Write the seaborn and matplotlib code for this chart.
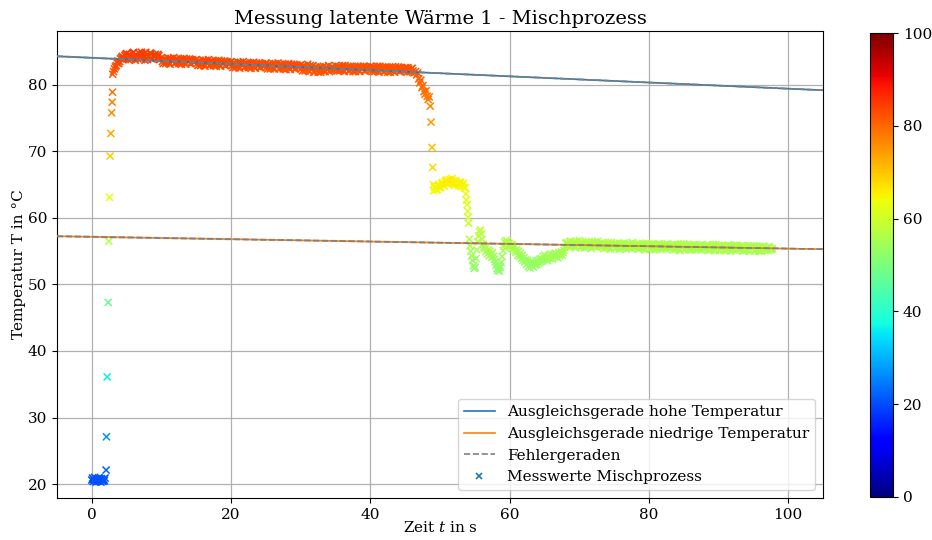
import numpy as np
import pandas as pd
import matplotlib
matplotlib.use("Agg")
import matplotlib.pyplot as plt
from matplotlib.lines import Line2D
import seaborn as sns

plt.rcParams['font.family'] = ['DejaVu Serif']
plt.rcParams['mathtext.fontset'] = 'dejavuserif'

# ---------------- data ----------------
# start: cold water (t0 = 0 s, interval 0.1 s)
start_t0, start_dt = 0.0, 0.1
start_T = [20.6, 20.9, 20.4, 20.7, 21.0, 20.5, 20.3, 20.8, 20.6, 20.4,
           20.9, 20.5, 20.7, 20.3, 20.8, 20.6, 20.4, 20.7, 20.5, 20.9]

# fast rise (explicit times)
rise_t = [2.05, 2.10, 2.20, 2.35, 2.44, 2.54, 2.63, 2.73, 2.85, 2.92, 2.97]
rise_T = [22.1, 27.1, 36.1, 47.3, 56.5, 63.1, 69.3, 72.7, 75.8, 77.4, 78.9]

# hot plateau, readings A (t0 = 3.0 s, interval 0.25 s)
hot_t0, hot_dt = 3.0, 0.25
hot_T = [81.6, 82.4, 82.9, 83.6, 83.5, 84.1, 83.8, 84.4,
         84.7, 83.8, 84.5, 84.0, 84.9, 83.7, 84.3, 84.8, 83.9, 84.6,
         84.1, 84.9, 83.8, 84.4, 84.7, 83.9, 84.5, 84.0, 84.6, 83.8,
         84.1, 83.2, 83.8, 83.4, 84.0, 83.1, 83.7, 84.1, 83.3, 83.8,
         83.2, 83.9, 83.5, 84.0, 83.1, 83.6, 83.9, 83.2, 83.7, 83.4,
         83.8, 82.9, 83.5, 83.1, 83.7, 82.8, 83.4, 83.8, 83.0, 83.5,
         82.9, 83.6, 83.2, 83.7, 82.8, 83.3, 83.6, 82.9, 83.4, 83.1,
         83.5, 82.6, 83.2, 82.8, 83.4, 82.5, 83.1, 83.5, 82.7, 83.2,
         82.6, 83.3, 82.9, 83.4, 82.5, 83.0, 83.3, 82.6, 83.1, 82.8,
         83.3, 82.4, 83.0, 82.6, 83.2, 82.4, 82.9, 83.3, 82.5, 83.0,
         82.4, 83.1, 82.7, 83.2, 82.3, 82.8, 83.1, 82.4, 82.9, 82.6,
         83.0, 82.1, 82.8, 82.3, 83.1, 82.0, 82.6, 82.9, 82.0, 82.5,
         81.9, 82.7, 82.2, 82.8, 82.0, 82.6, 82.9, 82.2, 82.7, 82.4,
         82.9, 82.1, 82.7, 82.2, 82.9, 82.0, 82.5, 82.8, 82.1, 82.6,
         82.0, 82.7, 82.3, 82.8, 82.0, 82.5, 82.8, 82.1, 82.6, 82.3,
         82.8, 82.0, 82.6, 82.1, 82.8, 81.9, 82.4, 82.7, 82.0, 82.5,
         81.9, 82.6, 82.2, 82.7, 81.9, 82.4, 82.7, 82.0, 82.5, 82.2,
         82.6, 81.9, 82.4, 82.0, 82.5, 81.8]
# hot plateau, readings B (t0 = 3.125 s, interval 0.25 s)
hot2_t0, hot2_dt = 3.125, 0.25
hot2_T = [82.0, 82.7, 83.3, 83.2, 83.9, 84.3, 84.0, 84.6,
          84.0, 84.6, 83.8, 84.8, 84.2, 84.5, 83.9, 84.3, 84.9, 84.1,
          83.7, 84.5, 84.2, 84.8, 83.9, 84.3, 84.6, 84.1, 84.4, 83.9,
          83.5, 83.9, 83.2, 83.7, 83.3, 84.0, 83.6, 83.2, 83.9, 83.4,
          83.7, 83.1, 83.8, 83.3, 83.9, 83.5, 83.2, 83.8, 83.4, 83.7,
          83.2, 83.6, 82.9, 83.4, 83.0, 83.7, 83.3, 82.9, 83.6, 83.1,
          83.4, 82.8, 83.5, 83.0, 83.6, 83.2, 82.9, 83.5, 83.1, 83.4,
          82.9, 83.3, 82.6, 83.1, 82.7, 83.4, 83.0, 82.6, 83.3, 82.8,
          83.1, 82.5, 83.2, 82.7, 83.3, 82.9, 82.6, 83.2, 82.8, 83.1,
          82.7, 83.1, 82.4, 82.9, 82.5, 83.2, 82.8, 82.4, 83.1, 82.6,
          82.9, 82.3, 83.0, 82.5, 83.1, 82.7, 82.4, 83.0, 82.6, 82.9,
          82.5, 82.9, 82.1, 82.6, 82.2, 82.9, 82.4, 81.9, 82.7, 82.2,
          82.5, 81.9, 82.6, 82.1, 82.7, 82.3, 82.0, 82.6, 82.2, 82.5,
          82.4, 82.8, 82.1, 82.6, 82.2, 82.9, 82.5, 82.1, 82.8, 82.3,
          82.6, 82.0, 82.7, 82.2, 82.8, 82.4, 82.1, 82.7, 82.3, 82.6,
          82.3, 82.7, 82.0, 82.5, 82.1, 82.8, 82.4, 82.0, 82.7, 82.2,
          82.5, 81.9, 82.6, 82.1, 82.7, 82.3, 82.0, 82.6, 82.2, 82.5,
          82.2, 82.6, 82.0, 82.4, 82.1]

# mixing drop (explicit times)
drop_t = [46.5, 46.65, 46.8, 46.95, 47.1, 47.25, 47.4, 47.55, 47.7, 47.85,
          48.0, 48.15, 48.3, 48.45, 48.6, 48.72, 48.85, 48.95, 49.05]
drop_T = [82.0, 81.5, 81.8, 80.9, 80.3, 80.7, 79.6, 79.9, 79.0, 78.6,
          79.1, 78.3, 77.8, 78.2, 76.8, 74.4, 70.6, 67.6, 65.0]

# intermediate plateau (t0 = 49.1 s / 49.225 s, interval 0.25 s)
mid_t0, mid_dt = 49.1, 0.25
mid_T = [64.1, 64.8, 64.3, 65.0, 64.6, 65.3, 64.8, 65.6, 65.1, 65.8,
         65.2, 65.6, 64.9, 65.5, 65.0, 65.4, 64.7, 65.2, 64.5]
mid2_t0, mid2_dt = 49.225, 0.25
mid2_T = [64.6, 64.2, 64.9, 64.5, 65.2, 64.9, 65.4, 65.7, 65.3, 65.5,
          65.9, 65.1, 65.6, 65.2, 64.8, 65.3, 64.9, 64.6]

# second drop (explicit times)
fall_t = [53.7, 53.8, 53.9, 53.97, 54.03, 54.1, 54.2]
fall_T = [63.6, 62.7, 62.0, 61.0, 60.1, 59.2, 56.8]

# oscillation (t0 = 54.3 s, interval 0.125 s)
osc_t0, osc_dt = 54.3, 0.125
osc_T = [55.8, 55.0, 54.3, 53.6, 52.8, 52.4, 52.6,
         53.9, 55.2, 56.4, 57.3, 57.9, 58.2,
         57.6, 56.8, 56.0, 55.6,
         55.4, 54.9, 55.6, 54.6, 55.2, 54.3, 55.0, 54.5, 54.1, 54.8, 54.2, 53.8, 53.4,
         52.9, 52.4, 52.1, 52.5, 52.0, 52.6, 53.3, 54.2, 55.1, 55.8,
         56.3, 56.6, 56.1, 56.5, 55.8, 56.2, 55.6, 56.0, 55.4, 55.9, 55.3, 55.7, 55.1,
         54.8, 55.3, 54.4, 55.0, 54.2, 54.7, 53.9, 54.4, 53.6, 54.0, 53.4, 53.7,
         53.0, 53.6, 52.7, 53.3, 52.5, 53.1, 52.8, 53.4, 52.6, 53.2, 52.9, 53.5,
         53.0, 53.6, 53.2, 53.8, 53.4,
         53.9, 53.5, 54.2, 53.7, 54.4, 53.9, 54.1, 53.6, 54.3, 53.9, 54.6, 54.0,
         54.4, 53.8, 54.5, 54.1, 54.7, 54.2, 54.5, 54.0, 54.8, 54.3, 54.6, 54.9,
         54.4, 54.8, 55.1,
         55.6, 56.2]

# final plateau, readings A (t0 = 68.25 s, interval 0.25 s)
low_t0, low_dt = 68.25, 0.25
low_T = [56.3, 55.6, 56.5, 55.9, 56.4, 55.5, 56.2, 56.6, 55.7, 56.1,
         55.5, 56.4, 55.8, 56.3, 55.4, 56.0, 56.4, 55.6, 56.1, 55.8,
         56.2, 55.4, 56.0, 55.6, 56.3, 55.3, 55.9, 56.2, 55.5, 56.0,
         55.3, 56.1, 55.7, 56.2, 55.3, 55.8, 56.1, 55.4, 55.9, 55.6,
         56.1, 55.3, 55.9, 55.5, 56.1, 55.2, 55.8, 56.1, 55.4, 55.9,
         55.2, 56.0, 55.6, 56.1, 55.3, 55.7, 56.0, 55.3, 55.8, 55.5,
         56.0, 55.2, 55.8, 55.4, 56.0, 55.1, 55.7, 56.1, 55.3, 55.8,
         55.2, 55.9, 55.5, 56.0, 55.2, 55.7, 55.9, 55.2, 55.7, 55.4,
         55.9, 55.1, 55.7, 55.3, 56.0, 55.1, 55.6, 55.9, 55.2, 55.7,
         55.1, 55.8, 55.4, 55.9, 55.0, 55.6, 55.9, 55.1, 55.6, 55.3,
         55.8, 55.0, 55.6, 55.2, 55.8, 55.0, 55.5, 55.8, 55.1, 55.6,
         55.0, 55.7, 55.3, 55.7, 55.1, 55.5, 55.7, 55.2, 55.4]
# final plateau, readings B (t0 = 68.375 s, interval 0.25 s)
low2_t0, low2_dt = 68.375, 0.25
low2_T = [55.9, 56.4, 55.7, 56.2, 55.8, 56.5, 56.0, 55.6, 56.3, 55.8,
          56.2, 55.6, 56.4, 55.9, 56.3, 55.7, 56.1, 56.5, 55.8, 56.2,
          55.8, 56.2, 55.5, 56.0, 55.6, 56.3, 55.9, 55.4, 56.1, 55.7,
          56.0, 55.4, 56.2, 55.7, 56.1, 55.5, 55.9, 56.3, 55.6, 56.0,
          55.7, 56.1, 55.4, 55.9, 55.5, 56.2, 55.8, 55.3, 56.0, 55.6,
          55.9, 55.3, 56.1, 55.6, 56.0, 55.4, 55.8, 56.1, 55.5, 55.9,
          55.6, 56.0, 55.3, 55.8, 55.4, 56.1, 55.7, 55.2, 55.9, 55.5,
          55.8, 55.2, 56.0, 55.5, 55.9, 55.3, 55.7, 56.0, 55.4, 55.8,
          55.5, 55.9, 55.2, 55.7, 55.3, 56.0, 55.6, 55.1, 55.8, 55.4,
          55.7, 55.1, 55.9, 55.4, 55.8, 55.2, 55.6, 55.9, 55.3, 55.7,
          55.4, 55.8, 55.1, 55.6, 55.2, 55.8, 55.5, 55.0, 55.7, 55.3,
          55.6, 55.0, 55.7, 55.3, 55.6, 55.1, 55.5, 55.3]

# linear fits: (slope in K/s, intercept in °C)
fit_high = (-0.0464, 84.07)
fit_low = (-0.0177, 57.16)
# error lines (slope, intercept)
err_high = [(-0.0460, 84.04), (-0.0468, 84.10)]
err_low = [(-0.0173, 57.12), (-0.0181, 57.20)]

x_range = (-5, 105)
y_range = (17.9, 88.1)

title = "Messung latente Wärme 1 - Mischprozess"
xlabel = "Zeit $t$ in s"
ylabel = "Temperatur T in °C"
legend_labels = ["Ausgleichsgerade hohe Temperatur",
                 "Ausgleichsgerade niedrige Temperatur",
                 "Fehlergeraden",
                 "Messwerte Mischprozess"]

# ---------------- assemble ----------------
def seg(t0, dt, vals):
    return [t0 + i * dt for i in range(len(vals))], list(vals)

parts = [seg(start_t0, start_dt, start_T), (rise_t, rise_T),
         seg(hot_t0, hot_dt, hot_T), seg(hot2_t0, hot2_dt, hot2_T),
         (drop_t, drop_T),
         seg(mid_t0, mid_dt, mid_T), seg(mid2_t0, mid2_dt, mid2_T),
         (fall_t, fall_T),
         seg(osc_t0, osc_dt, osc_T),
         seg(low_t0, low_dt, low_T), seg(low2_t0, low2_dt, low2_T)]
t_all, T_all = [], []
for tt, vv in parts:
    t_all += list(tt)
    T_all += list(vv)
df = pd.DataFrame({"t": t_all, "T": T_all})

jet = matplotlib.colormaps["jet"]

# ---------------- plot ----------------
fig = plt.figure(figsize=(9.32, 5.40), dpi=100)
ax = fig.add_axes([57 / 932, 42 / 540, 766 / 932, 467 / 540])
cax = fig.add_axes([870 / 932, 43 / 540, 23 / 932, 464 / 540])

sns.scatterplot(data=df, x="t", y="T", hue="T", palette=jet,
                hue_norm=(0, 100), marker="x", s=26, linewidth=1.1,
                legend=False, ax=ax, zorder=2)

xf = np.array(x_range, dtype=float)
ax.plot(xf, fit_high[0] * xf + fit_high[1], color="C0", lw=1.2, zorder=3)
ax.plot(xf, fit_low[0] * xf + fit_low[1], color="C1", lw=1.2, zorder=3)
for m, b in err_high + err_low:
    ax.plot(xf, m * xf + b, color="gray", ls="--", lw=1.2, alpha=0.75, zorder=4)

ax.set_xlim(*x_range)
ax.set_ylim(*y_range)
ax.set_xticks([0, 20, 40, 60, 80, 100])
ax.set_yticks([20, 30, 40, 50, 60, 70, 80])
ax.grid(True, color="#b0b0b0", lw=0.9)
ax.set_axisbelow(True)
ax.tick_params(labelsize=11)
ax.set_title(title, fontsize=14, pad=5)
ax.set_xlabel(xlabel, fontsize=11, labelpad=-1)
ax.set_ylabel(ylabel, fontsize=11, labelpad=1)
for sp in ax.spines.values():
    sp.set_color("black")

handles = [Line2D([], [], color="C0", lw=1.2),
           Line2D([], [], color="C1", lw=1.2),
           Line2D([], [], color="gray", ls="--", lw=1.2),
           Line2D([], [], color="C0", marker="x", ls="", markersize=5, mew=1.2)]
ax.legend(handles, legend_labels, loc="lower right", fontsize=11,
          framealpha=0.8)

sm = plt.cm.ScalarMappable(cmap=jet, norm=plt.Normalize(0, 100))
cb = fig.colorbar(sm, cax=cax)
cb.set_ticks([0, 20, 40, 60, 80, 100])
cb.ax.tick_params(labelsize=11)

fig.savefig("out.png", dpi=100)
